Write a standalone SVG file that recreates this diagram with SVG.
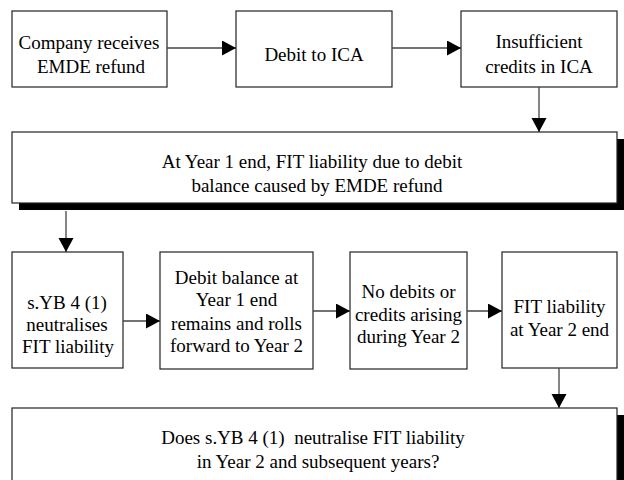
<svg xmlns="http://www.w3.org/2000/svg" width="624" height="480" viewBox="0 0 624 480">
<style>
.box{fill:#fff;stroke:#222;stroke-width:1.2}
.shadow{fill:#000}
.t{font-family:'Liberation Serif','Times New Roman',Tinos,'Nimbus Roman','DejaVu Serif',serif;font-size:19px;fill:#000;text-anchor:middle;white-space:pre}
.c{fill:none;stroke:#444;stroke-width:1.3}
</style>
<defs>
<marker id="ah" markerUnits="userSpaceOnUse" markerWidth="15" markerHeight="16" refX="14" refY="7.5" orient="auto">
<path d="M0,0 L14,7.5 L0,15 z" fill="#000"/>
</marker>
</defs>
<rect width="624" height="480" fill="#fff"/>
<g id="n1"><rect class="box" x="12" y="11" width="155" height="76"/><text class="t" x="89" y="49">Company receives</text><text class="t" x="91" y="73">EMDE refund</text></g>
<g id="n2"><rect class="box" x="236" y="11" width="156" height="76"/><text class="t" x="314" y="61">Debit to ICA</text></g>
<g id="n3"><rect class="box" x="461" y="11" width="156" height="76"/><text class="t" x="539" y="48">Insufficient</text><text class="t" x="539" y="73">credits in ICA</text></g>
<g id="n4"><rect class="shadow" x="19" y="139" width="605" height="71"/><rect class="box" x="12" y="132" width="605" height="71"/><text class="t" x="312" y="168">At Year 1 end, FIT liability due to debit</text><text class="t" x="317" y="192">balance caused by EMDE refund</text></g>
<g id="n5"><rect class="box" x="12" y="252" width="111" height="116"/><text class="t" x="67" y="309">s.YB 4 (1)</text><text class="t" x="67" y="331">neutralises</text><text class="t" x="68" y="353">FIT liability</text></g>
<g id="n6"><rect class="box" x="160" y="252" width="153" height="117"/><text class="t" x="236.5" y="284">Debit balance at</text><text class="t" x="236.5" y="306">Year 1 end</text><text class="t" x="236.5" y="330">remains and rolls</text><text class="t" x="236.5" y="352">forward to Year 2</text></g>
<g id="n7"><rect class="box" x="350" y="252" width="117" height="117"/><text class="t" x="408.5" y="298">No debits or</text><text class="t" x="408.5" y="321">credits arising</text><text class="t" x="408.5" y="343">during Year 2</text></g>
<g id="n8"><rect class="box" x="502" y="252" width="115" height="116"/><text class="t" x="559.5" y="313">FIT liability</text><text class="t" x="559.5" y="336">at Year 2 end</text></g>
<g id="n9"><rect class="shadow" x="19" y="415" width="605" height="80"/><rect class="box" x="12" y="408" width="605" height="85"/><text class="t" x="313" y="444">Does s.YB 4 (1)  neutralise FIT liability</text><text class="t" x="318" y="468">in Year 2 and subsequent years?</text></g>
<g id="connectors">
<path class="c" d="M167,48 H236" marker-end="url(#ah)"/>
<path class="c" d="M392,48 H461" marker-end="url(#ah)"/>
<path class="c" d="M539,87 V132" marker-end="url(#ah)"/>
<path class="c" d="M66,211 V252" marker-end="url(#ah)"/>
<path class="c" d="M123,321 H160" marker-end="url(#ah)"/>
<path class="c" d="M313,311 H350" marker-end="url(#ah)"/>
<path class="c" d="M467,311 H502" marker-end="url(#ah)"/>
<path class="c" d="M559,368 V408" marker-end="url(#ah)"/>
</g>
</svg>
